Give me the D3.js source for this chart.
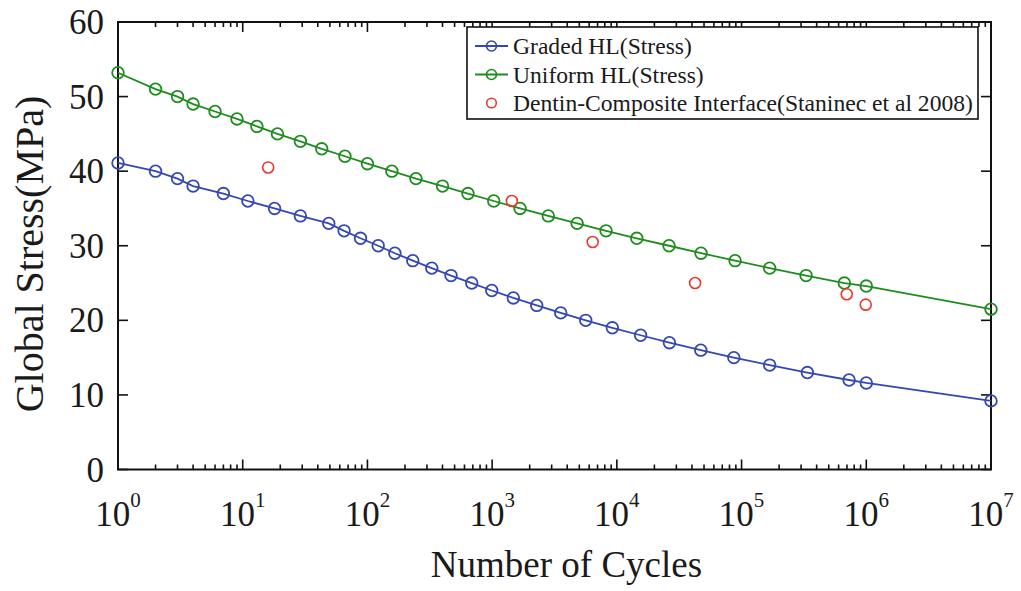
<!DOCTYPE html>
<html>
<head>
<meta charset="utf-8">
<script src="https://cdn.jsdelivr.net/npm/d3@7"></script>
<style>
  html, body { margin: 0; padding: 0; background: #fff; }
  svg { display: block; }
  text { font-family: "Liberation Serif", "Times New Roman", serif; fill: #1a1a1a; }
</style>
</head>
<body>
<svg id="chart" width="1021" height="591"></svg>
<script>
// ---- data ----
const gradedN = [1, 2, 3, 4, 7, 11, 18, 29, 49, 65, 88, 122, 166, 231, 328, 468, 686, 993, 1479, 2278, 3550, 5630, 9200, 15500, 26400, 47100, 86700, 168000, 337000, 728000, 1000000, 10000000];
const gradedS = [41.1, 40, 39, 38, 37, 36, 35, 34, 33, 32, 31, 30, 29, 28, 27, 26, 25, 24, 23, 22, 21, 20, 19, 18, 17, 16, 15, 14, 13, 12, 11.6, 9.2];

const uniformN = [1, 2, 3, 4, 6, 9, 13, 19, 29, 43, 66, 100, 157, 245, 400, 640, 1030, 1675, 2820, 4800, 8190, 14450, 26200, 47300, 88700, 168000, 329000, 667000, 1000000, 10000000];
const uniformS = [53.2, 51, 50, 49, 48, 47, 46, 45, 44, 43, 42, 41, 40, 39, 38, 37, 36, 35, 34, 33, 32, 31, 30, 29, 28, 27, 26, 25, 24.6, 21.5];

const dentinN = [16, 1440, 6400, 42400, 697000, 990000];
const dentinS = [40.5, 36, 30.5, 25, 23.5, 22.1];

const seriesNames = ["Graded HL(Stress)", "Uniform HL(Stress)", "Dentin-Composite Interface(Staninec et al 2008)"];
const xMajorTicks = [1, 10, 100, 1000, 10000, 100000, 1000000, 10000000];
const xExponents = ["0", "1", "2", "3", "4", "5", "6", "7"];
const yTicks = [0, 10, 20, 30, 40, 50, 60];
const xTitle = "Number of Cycles";
const yTitle = "Global Stress(MPa)";

// ---- layout ----
const svg = d3.select("#chart");
const L = 118, R = 991, T = 22, B = 469.5;
const x = d3.scaleLog().domain([1, 1e7]).range([L, R]);
const y = d3.scaleLinear().domain([0, 60]).range([B, T]);

const colors = { graded: "#3447b3", uniform: "#1e8c1e", dentin: "#e8392e" };

// minor ticks
const minor = [];
for (let e = 0; e < 7; e++) for (let k = 2; k <= 9; k++) minor.push(k * Math.pow(10, e));

const axisG = svg.append("g");
const tickMajor = 10, tickMinor = 5;
xMajorTicks.forEach(v => {
  axisG.append("line").attr("x1", x(v)).attr("x2", x(v)).attr("y1", B).attr("y2", B - tickMajor);
  axisG.append("line").attr("x1", x(v)).attr("x2", x(v)).attr("y1", T).attr("y2", T + tickMajor);
});
minor.forEach(v => {
  axisG.append("line").attr("x1", x(v)).attr("x2", x(v)).attr("y1", B).attr("y2", B - tickMinor);
  axisG.append("line").attr("x1", x(v)).attr("x2", x(v)).attr("y1", T).attr("y2", T + tickMinor);
});
yTicks.forEach(v => {
  axisG.append("line").attr("x1", L).attr("x2", L + tickMajor).attr("y1", y(v)).attr("y2", y(v));
  axisG.append("line").attr("x1", R).attr("x2", R - tickMajor).attr("y1", y(v)).attr("y2", y(v));
});
axisG.selectAll("line").attr("stroke", "#111").attr("stroke-width", 1.6);
axisG.append("rect").attr("x", L).attr("y", T).attr("width", R - L).attr("height", B - T)
  .attr("fill", "none").attr("stroke", "#111").attr("stroke-width", 2);

// tick labels
xMajorTicks.forEach((v, i) => {
  const t = svg.append("text").attr("x", x(v)).attr("y", 526)
    .attr("text-anchor", "middle").style("font-size", "35px");
  t.append("tspan").text("10");
  t.append("tspan").attr("dy", -19).style("font-size", "21px").text(xExponents[i]);
});
yTicks.forEach(v => {
  svg.append("text").attr("x", 104).attr("y", y(v) + 12)
    .attr("text-anchor", "end").style("font-size", "35px").text(v);
});

// titles
svg.append("text").attr("x", (L + R) / 2 + 12).attr("y", 577)
  .attr("text-anchor", "middle").style("font-size", "37px").text(xTitle);
svg.append("text").attr("transform", "translate(43,254) rotate(-90)")
  .attr("text-anchor", "middle").style("font-size", "40px").text(yTitle);

// series
const line = d3.line().x(d => x(d[0])).y(d => y(d[1]));
function drawSeries(N, S, color) {
  const pts = N.map((n, i) => [n, S[i]]);
  svg.append("path").datum(pts).attr("d", line)
    .attr("fill", "none").attr("stroke", color).attr("stroke-width", 1.8);
  svg.append("g").selectAll("circle").data(pts).join("circle")
    .attr("cx", d => x(d[0])).attr("cy", d => y(d[1])).attr("r", 5.8)
    .attr("fill", "none").attr("stroke", color).attr("stroke-width", 1.8);
}
drawSeries(gradedN, gradedS, colors.graded);
drawSeries(uniformN, uniformS, colors.uniform);
svg.append("g").selectAll("circle").data(dentinN.map((n, i) => [n, dentinS[i]])).join("circle")
  .attr("cx", d => x(d[0])).attr("cy", d => y(d[1])).attr("r", 5.5)
  .attr("fill", "none").attr("stroke", colors.dentin).attr("stroke-width", 1.6);

// legend
const lg = svg.append("g");
lg.append("rect").attr("x", 467).attr("y", 27).attr("width", 511).attr("height", 92)
  .attr("fill", "#fff").attr("stroke", "#111").attr("stroke-width", 1.6);
const legendItems = [
  { name: seriesNames[0], color: colors.graded, line: true },
  { name: seriesNames[1], color: colors.uniform, line: true },
  { name: seriesNames[2], color: colors.dentin, line: false }
];
legendItems.forEach((it, i) => {
  const cy = 46 + i * 28.5;
  if (it.line) {
    lg.append("line").attr("x1", 475).attr("x2", 508).attr("y1", cy).attr("y2", cy)
      .attr("stroke", it.color).attr("stroke-width", 1.8);
  }
  lg.append("circle").attr("cx", 491.5).attr("cy", cy).attr("r", it.line ? 5 : 4.8)
    .attr("fill", "none").attr("stroke", it.color).attr("stroke-width", 1.6);
  lg.append("text").attr("x", 513).attr("y", cy + 8).style("font-size", "23.6px").text(it.name);
});
</script>
</body>
</html>
